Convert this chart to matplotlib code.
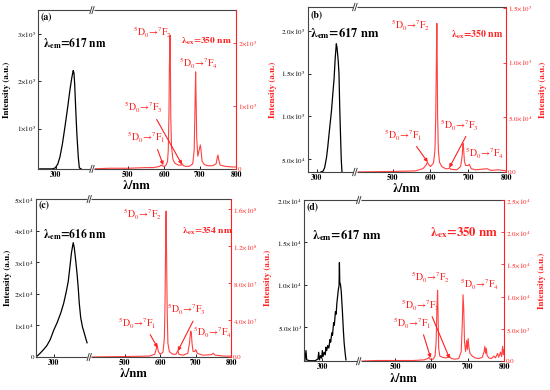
import matplotlib
matplotlib.use('Agg')
import matplotlib.pyplot as plt

plt.rcParams['font.family'] = 'STIXGeneral'
plt.rcParams['mathtext.fontset'] = 'stix'

# ---------------- data ----------------
# panel (a): excitation (black, x1e5) and emission (red, x1e5)
a_ex_wl = [255, 290, 298, 305, 311, 318, 325, 332, 339, 344, 348, 350, 352, 355, 358, 362, 365, 370]
a_ex_int = [0.15, 0.15, 0.17, 0.25, 0.40, 0.68, 1.04, 1.42, 1.83, 2.08, 2.23, 2.18, 1.95, 1.40, 0.90, 0.40, 0.17, 0.15]
a_em_wl = [400, 450, 500, 550, 570, 580, 588, 592, 595, 600, 605, 610, 612, 614, 615, 617, 618, 619, 621,
           625, 630, 640, 648, 651, 654, 660, 670, 680, 684, 686, 688, 689, 691, 694, 698, 701, 703, 706,
           712, 720, 735, 745, 748, 750, 752, 756, 770, 790, 800]
a_em_int = [0.0, 0.01, 0.01, 0.02, 0.02, 0.03, 0.04, 0.06, 0.05, 0.04, 0.05, 0.12, 0.30, 0.90, 1.60, 2.12, 1.60, 0.80, 0.35,
            0.15, 0.09, 0.06, 0.06, 0.08, 0.05, 0.04, 0.04, 0.08, 0.30, 0.90, 1.54, 1.20, 0.50, 0.20, 0.30, 0.38, 0.30, 0.12,
            0.07, 0.05, 0.05, 0.08, 0.18, 0.22, 0.15, 0.06, 0.04, 0.03, 0.03]

# panel (b): excitation (x1e5), emission (x1e4)
b_ex_wl = [310, 316, 320, 325, 328, 333, 338, 342, 345, 348, 351, 353, 356, 358, 360, 362, 364, 366]
b_ex_int = [0.35, 0.36, 0.40, 0.52, 0.63, 0.85, 1.06, 1.28, 1.44, 1.68, 1.85, 1.80, 1.65, 1.50, 1.10, 0.79, 0.50, 0.34]
b_em_wl = [400, 500, 560, 580, 588, 592, 595, 600, 608, 612, 614, 615, 617, 618, 619, 621, 624, 630, 640, 648,
           651, 654, 670, 680, 684, 686, 687, 688, 690, 693, 700, 703, 708, 720, 750, 760, 780, 800]
b_em_int = [0.0, 0.05, 0.1, 0.3, 0.6, 0.9, 0.7, 0.5, 0.8, 2.0, 5.0, 8.0, 13.6, 10.0, 5.0, 2.0, 0.9, 0.5, 0.3, 0.3,
            0.4, 0.25, 0.2, 0.5, 1.5, 2.6, 2.6, 2.0, 1.0, 0.6, 0.6, 0.7, 0.3, 0.2, 0.3, 0.15, 0.2, 0.1]

# panel (c): excitation (x1e4), emission (x1e7)
c_ex_wl = [252, 260, 270, 280, 290, 300, 310, 320, 328, 335, 341, 346, 350, 353, 355, 358, 362, 366, 369,
           372, 376, 381, 385, 390, 394]
c_ex_int = [0.02, 0.10, 0.22, 0.35, 0.55, 0.85, 1.10, 1.40, 1.70, 2.05, 2.40, 2.90, 3.30, 3.50, 3.62, 3.45,
            3.05, 2.60, 2.20, 1.70, 1.25, 0.95, 0.80, 0.60, 0.45]
c_em_wl = [400, 500, 570, 585, 590, 592, 595, 600, 608, 612, 614, 616, 617, 618, 620, 622, 626, 635, 645, 650,
           653, 665, 678, 683, 686, 688, 690, 693, 698, 701, 705, 720, 745, 750, 755, 780, 800]
c_em_int = [0.0, 0.05, 0.1, 0.3, 1.0, 1.2, 0.6, 0.3, 0.5, 2.0, 6.0, 14.0, 15.8, 12.0, 5.0, 1.5, 0.6, 0.3, 0.3, 0.7,
            0.3, 0.2, 0.4, 1.5, 2.8, 2.7, 1.5, 0.6, 0.6, 0.8, 0.4, 0.2, 0.25, 0.4, 0.2, 0.1, 0.1]

# panel (d): excitation (x1e3), emission (x1e3)
d_ex_wl = [252, 255, 257, 265, 280, 288, 290, 292, 295, 298, 300, 302, 305, 308, 310, 312, 315, 318, 321, 323,
           326, 328, 331, 333, 336, 338, 340, 342, 344, 346, 347, 348, 350, 352, 355, 358, 360, 363, 365]
d_ex_int = [1.0, 2.2, 1.1, 1.0, 1.0, 1.2, 2.0, 1.1, 1.6, 1.3, 2.2, 1.5, 2.0, 1.7, 2.6, 2.2, 2.8, 2.5, 3.5, 3.2,
            4.3, 4.0, 5.5, 5.2, 6.8, 6.5, 7.8, 8.6, 9.4, 9.9, 12.6, 10.3, 10.0, 9.2, 7.0, 4.5, 3.1, 1.8, 1.1]
d_em_wl = [400, 450, 500, 550, 580, 590, 593, 596, 605, 610, 613, 615, 617, 618, 620, 623, 630, 640, 650, 655,
           665, 675, 682, 685, 687, 689, 691, 694, 697, 699, 701, 703, 706, 712, 720, 730, 740, 745, 747, 749,
           751, 753, 758, 765, 772, 776, 782, 785, 790, 793, 796, 798, 800]
d_em_int = [0.0, 0.1, 0.1, 0.1, 0.2, 0.4, 0.6, 0.3, 0.3, 0.8, 3.0, 8.0, 11.0, 8.0, 2.0, 0.8, 0.6, 0.5, 0.7, 0.4,
            0.3, 0.4, 1.5, 6.0, 10.3, 8.0, 3.0, 1.5, 3.2, 1.8, 3.5, 2.2, 1.2, 0.8, 0.5, 0.4, 0.6, 1.5, 2.3, 1.2,
            2.0, 0.9, 0.5, 0.4, 0.8, 0.5, 1.2, 0.6, 1.4, 0.7, 2.3, 1.0, 1.8]

# axis ticks / labels
x_ticks = [300, 500, 600, 700, 800]
a_left_ticks = [1, 2, 3]
a_left_labels = [r'$1{\times}10^{5}$', r'$2{\times}10^{5}$', r'$3{\times}10^{5}$']
a_right_ticks = [0, 1, 2]
a_right_labels = ['0', r'$1{\times}10^{5}$', r'$2{\times}10^{5}$']
b_left_ticks = [0.5, 1.0, 1.5, 2.0]
b_left_labels = [r'$5.0{\times}10^{4}$', r'$1.0{\times}10^{5}$', r'$1.5{\times}10^{5}$', r'$2.0{\times}10^{5}$']
b_right_ticks = [0, 5, 10, 15]
b_right_labels = ['0.0', r'$5.0{\times}10^{4}$', r'$1.0{\times}10^{5}$', r'$1.5{\times}10^{5}$']
c_left_ticks = [0, 1, 2, 3, 4, 5]
c_left_labels = ['0', r'$1{\times}10^{4}$', r'$2{\times}10^{4}$', r'$3{\times}10^{4}$', r'$4{\times}10^{4}$', r'$5{\times}10^{4}$']
c_right_ticks = [0, 4, 8, 12, 16]
c_right_labels = ['0.0', r'$4.0{\times}10^{7}$', r'$8.0{\times}10^{7}$', r'$1.2{\times}10^{8}$', r'$1.6{\times}10^{8}$']
d_left_ticks = [5, 10, 15, 20]
d_left_labels = [r'$5.0{\times}10^{3}$', r'$1.0{\times}10^{4}$', r'$1.5{\times}10^{4}$', r'$2.0{\times}10^{4}$']
d_right_ticks = [0, 5, 10, 15, 20, 25]
d_right_labels = ['0.0', r'$5.0{\times}10^{3}$', r'$1.0{\times}10^{4}$', r'$1.5{\times}10^{4}$', r'$2.0{\times}10^{4}$', r'$2.5{\times}10^{4}$']

RED = '#ff2020'
BREAK_NM = 400


def trans(n):
    return r'$^{5}$D$_{0}$→$^{7}$F$_{%d}$' % n


def panel(rect, tag, xlim, ex_wl, ex_int, ylim_l, lt, ll, em_wl, em_int, ylim_r, rt, rl,
          em_label, em_pos, em_fs, ex_label, ex_pos, ex_fs, trans_specs, left_ylabel=True,
          ylabel_l_x=-0.13, ylabel_r_x=1.17):
    ax = fig.add_axes(rect)
    ax2 = ax.twinx()
    ax.plot(ex_wl, ex_int, color='black', lw=0.9)
    ax2.plot(em_wl, em_int, color=RED, lw=0.8, alpha=0.85)
    ax.set_xlim(*xlim)
    ax.set_ylim(*ylim_l)
    ax2.set_ylim(*ylim_r)
    ax.set_xticks(x_ticks)
    ax.set_xticklabels([str(t) for t in x_ticks], fontsize=5.5, fontweight='bold')
    ax.set_yticks(lt)
    ax.set_yticklabels(ll, fontsize=5)
    ax2.set_yticks(rt)
    ax2.set_yticklabels(rl, fontsize=5, color=RED)
    ax.tick_params(direction='in', length=2.5, width=0.6, pad=1.5)
    ax2.tick_params(direction='in', length=2.5, width=0.6, pad=1.5, colors=RED)
    for s in ['left', 'top', 'bottom']:
        ax.spines[s].set_color('#444444')
        ax.spines[s].set_linewidth(0.8)
        ax2.spines[s].set_visible(False)
    ax.spines['right'].set_visible(False)
    ax2.spines['right'].set_color(RED)
    ax2.spines['right'].set_linewidth(0.8)
    ax.set_xlabel('λ/nm', fontsize=9, fontweight='bold', labelpad=1)
    if left_ylabel:
        ax.set_ylabel('Intensity (a.u.)', fontsize=6.5, fontweight='bold')
        ax.yaxis.set_label_coords(ylabel_l_x, 0.5)
    ax2.set_ylabel('Intensity (a.u.)', fontsize=6.5, fontweight='bold', color=RED, rotation=90)
    ax2.yaxis.set_label_coords(ylabel_r_x, 0.5)

    # break marks on top and bottom spines
    tr = ax2.get_xaxis_transform()
    for yb in (0, 1):
        ax2.plot([BREAK_NM - 6, BREAK_NM + 6], [yb, yb], transform=tr, color='white', lw=2.2,
                 clip_on=False, zorder=10, solid_capstyle='butt')
        for dx in (-3, 3):
            ax2.plot([BREAK_NM + dx - 3, BREAK_NM + dx + 3], [yb - 0.022, yb + 0.022], transform=tr,
                     color='#444444', lw=0.7, clip_on=False, zorder=11)

    ax.text(0.012, 0.955 if tag != '(b)' else 0.95, tag, transform=ax.transAxes, fontsize=7,
            fontweight='bold', ha='left', va='center')
    ax.text(em_pos[0], em_pos[1], em_label, transform=ax.transAxes, fontsize=em_fs,
            fontweight='bold', ha='left', va='center')
    ax.text(ex_pos[0], ex_pos[1], ex_label, transform=ax.transAxes, fontsize=ex_fs,
            fontweight='bold', ha='center', va='center', color=RED)
    for n, pos, target in trans_specs:
        if target is None:
            ax2.text(pos[0], pos[1], trans(n), transform=ax2.transAxes, fontsize=7,
                     color=RED, ha='center', va='center')
        else:
            ax2.annotate(trans(n), xy=target, xycoords='data', xytext=pos, textcoords='axes fraction',
                         fontsize=7, color=RED, ha='center', va='center',
                         arrowprops=dict(arrowstyle='-|>', color=RED, lw=0.8, mutation_scale=5,
                                         shrinkA=1, shrinkB=0, relpos=(0.75, 0.1)))
    return ax, ax2


fig = plt.figure(figsize=(5.5, 3.9), dpi=100)

em617 = r'λ$_{\mathbf{em}}$=617 nm'
em616 = r'λ$_{\mathbf{em}}$=616 nm'
ex350 = r'λ$_{\mathbf{ex}}$=350 nm'
ex354 = r'λ$_{\mathbf{ex}}$=354 nm'

panel([0.069, 0.567, 0.360, 0.407], '(a)', (250, 800), a_ex_wl, a_ex_int, (0.15, 3.51),
      a_left_ticks, a_left_labels, a_em_wl, a_em_int, (0, 2.52), a_right_ticks, a_right_labels,
      em617, (0.025, 0.79), 8.3, ex350, (0.853, 0.80), 6.8,
      [(2, (0.58, 0.86), None), (4, (0.81, 0.667), None),
       (3, (0.535, 0.384), (650, 0.07)), (1, (0.545, 0.195), (598, 0.06))],
      ylabel_l_x=-0.135, ylabel_r_x=1.165)

panel([0.560, 0.559, 0.360, 0.423], '(b)', (276, 800), b_ex_wl, b_ex_int, (0.35, 2.28),
      b_left_ticks, b_left_labels, b_em_wl, b_em_int, (0, 15.1), b_right_ticks, b_right_labels,
      em617, (0.01, 0.84), 9, ex350, (0.853, 0.83), 7,
      [(2, (0.52, 0.89), None), (1, (0.48, 0.224), (593, 0.9)),
       (3, (0.763, 0.285), (650, 0.4)), (4, (0.89, 0.115), None)],
      left_ylabel=False, ylabel_r_x=1.165)

panel([0.0655, 0.0846, 0.3545, 0.405], '(c)', (250, 800), c_ex_wl, c_ex_int, (0, 5),
      c_left_ticks, c_left_labels, c_em_wl, c_em_int, (0, 17.1), c_right_ticks, c_right_labels,
      em616, (0.035, 0.78), 8.3, ex354, (0.877, 0.797), 6.8,
      [(2, (0.545, 0.90), None), (3, (0.77, 0.30), (650, 0.65)),
       (1, (0.52, 0.215), (593, 1.0)), (4, (0.907, 0.158), None)],
      ylabel_l_x=-0.125, ylabel_r_x=1.17)

panel([0.553, 0.074, 0.3636, 0.413], '(d)', (250, 800), d_ex_wl, d_ex_int, (0.95, 20),
      d_left_ticks, d_left_labels, d_em_wl, d_em_int, (0, 25), d_right_ticks, d_right_labels,
      em617, (0.04, 0.78), 9, ex350, (0.80, 0.795), 9.3,
      [(2, (0.63, 0.52), None), (4, (0.875, 0.478), None),
       (3, (0.58, 0.348), (650, 0.4)), (1, (0.54, 0.236), (598, 0.5))],
      left_ylabel=False, ylabel_r_x=1.17)

fig.savefig('out.png', dpi=100)
